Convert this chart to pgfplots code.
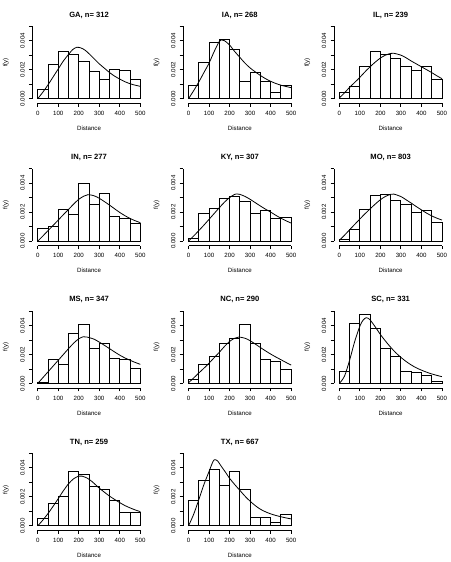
\documentclass[border=0pt]{standalone}
\usepackage{fontspec}
\setmainfont{Liberation Sans}
\usepackage{pgfplots}
\pgfplotsset{compat=1.18}
\newcommand{\tf}{\fontsize{4.6}{5.2}\selectfont}
\pgfplotsset{
  every axis title/.style={at={(axis description cs:0.5,1)}, anchor=center, yshift=8.4pt, font=\bfseries\fontsize{5.7}{6.5}\selectfont},
  panel/.style={
    scale only axis, width=76.95pt, height=54.4pt,
    xmin=0, xmax=500, ymin=0, ymax=0.005,
    axis lines*=left, axis x line shift=3.4pt, axis y line shift=4pt,
    axis line style={-, black, line width=0.6pt},
    tick align=outside, major tick length=2.6pt,
    tick style={black, line width=0.6pt},
    xtick={0,100,200,300,400,500}, xticklabels={0,100,200,300,400,500},
    ytick={0,0.001,0.002,0.003,0.004,0.005}, yticklabels={0.000,,0.002,,0.004,},
    minor tick num=0,
    /pgf/number format/assume math mode=true,
    scaled y ticks=false,
    tick label style={font=\tf, inner sep=0pt},
    xticklabel style={anchor=north},
    yticklabel style={rotate=90, anchor=south},
    xticklabel shift=3pt, yticklabel shift=3pt,
    clip=false,
    xlabel={Distance}, ylabel={f(y)},
    label style={font=\tf},
    xlabel style={at={([yshift=-22pt]axis description cs:0.5,0)}, anchor=center},
    ylabel style={at={([xshift=-24pt]axis description cs:0,0.5)}, anchor=center},
  },
  hist/.style={ybar interval, draw=black, fill=none, line width=0.65pt, mark=none},
  dens/.style={black, line width=0.6pt, smooth, mark=none},
}
\begin{document}
\begin{tikzpicture}
\path[use as bounding box] (0,0) rectangle (338.25pt,-421.5pt);
% ---------- row 1 ----------
\begin{axis}[panel, title={GA, n= 312}, at={(28.3pt,-74.0pt)}, anchor=south west]
\addplot[hist] coordinates {(0,0.00064) (50,0.00234) (100,0.00326) (150,0.00308) (200,0.00257) (250,0.00189) (300,0.00133) (350,0.00202) (400,0.00195) (450,0.00133) (500,0.00133)};
\addplot[dens] coordinates {(0,0) (25,0.00045) (50,0.00095) (75,0.0015) (100,0.00205) (125,0.0026) (150,0.00305) (170,0.00338) (190,0.00354) (210,0.0035) (230,0.00335) (250,0.0031) (275,0.00275) (300,0.0024) (325,0.0021) (350,0.0018) (375,0.00155) (400,0.00135) (425,0.00117) (450,0.00103) (475,0.00093) (500,0.00085)};
\end{axis}
\begin{axis}[panel, title={IA, n= 268}, at={(141.4pt,-74.0pt)}, anchor=south west]
\addplot[hist] coordinates {(0,0.00092) (50,0.00251) (100,0.00389) (150,0.00409) (200,0.00338) (250,0.00117) (300,0.00182) (350,0.00122) (400,0.00046) (450,0.00092) (500,0.00092)};
\addplot[dens] coordinates {(0,0) (25,0.00055) (50,0.00115) (75,0.0018) (100,0.00245) (125,0.00325) (150,0.00395) (160,0.00405) (175,0.004) (200,0.0037) (225,0.00325) (250,0.00285) (275,0.00245) (300,0.00212) (325,0.00185) (350,0.0016) (375,0.00138) (400,0.0012) (425,0.00105) (450,0.00093) (475,0.00084) (500,0.00076)};
\end{axis}
\begin{axis}[panel, title={IL, n= 239}, at={(254.5pt,-74.0pt)}, anchor=south west]
\addplot[hist] coordinates {(0,0.00041) (50,0.00085) (100,0.00221) (150,0.00329) (200,0.00306) (250,0.00276) (300,0.00221) (350,0.00195) (400,0.00221) (450,0.00133) (500,0.00133)};
\addplot[dens] coordinates {(0,0.00005) (25,0.0004) (50,0.00078) (75,0.00112) (100,0.00147) (125,0.00185) (150,0.0022) (175,0.00252) (200,0.0028) (225,0.003) (250,0.00312) (265,0.00313) (300,0.003) (325,0.00282) (350,0.0026) (375,0.0024) (400,0.0022) (425,0.002) (450,0.0018) (475,0.00158) (500,0.00138)};
\end{axis}
% ---------- row 2 ----------
\begin{axis}[panel, title={IN, n= 277}, at={(28.3pt,-180.8pt)}, anchor=south west]
\addplot[hist] coordinates {(0,0.00086) (50,0.00102) (100,0.00221) (150,0.00186) (200,0.00398) (250,0.00256) (300,0.00326) (350,0.00172) (400,0.00156) (450,0.00123) (500,0.00123)};
\addplot[dens] coordinates {(0,0) (25,0.00035) (50,0.00072) (75,0.00108) (100,0.00145) (125,0.00182) (150,0.00218) (175,0.00255) (200,0.00288) (225,0.0031) (245,0.0032) (275,0.00312) (300,0.00295) (325,0.00272) (350,0.00248) (375,0.00222) (400,0.00197) (425,0.00175) (450,0.00156) (475,0.0014) (500,0.00127)};
\end{axis}
\begin{axis}[panel, title={KY, n= 307}, at={(141.4pt,-180.8pt)}, anchor=south west]
\addplot[hist] coordinates {(0,0.00019) (50,0.00193) (100,0.00228) (150,0.00291) (200,0.00309) (250,0.0027) (300,0.00193) (350,0.00214) (400,0.00153) (450,0.0016) (500,0.0016)};
\addplot[dens] coordinates {(0,0) (25,0.00035) (50,0.00072) (75,0.0011) (100,0.0015) (125,0.0019) (150,0.0023) (175,0.00268) (200,0.003) (225,0.00322) (235,0.00325) (250,0.00322) (275,0.00308) (300,0.00288) (325,0.00265) (350,0.00242) (375,0.0022) (400,0.002) (425,0.00178) (450,0.00158) (475,0.0014) (500,0.00124)};
\end{axis}
\begin{axis}[panel, title={MO, n= 803}, at={(254.5pt,-180.8pt)}, anchor=south west]
\addplot[hist] coordinates {(0,0.00014) (50,0.00077) (100,0.00221) (150,0.00314) (200,0.00319) (250,0.00277) (300,0.00256) (350,0.002) (400,0.00212) (450,0.0013) (500,0.0013)};
\addplot[dens] coordinates {(0,0.00005) (25,0.0004) (50,0.00078) (75,0.00115) (100,0.00152) (125,0.00188) (150,0.00222) (175,0.00255) (200,0.00285) (225,0.00308) (250,0.00322) (265,0.00324) (300,0.00307) (325,0.00285) (350,0.00262) (375,0.00238) (400,0.00215) (425,0.00193) (450,0.00174) (475,0.00158) (500,0.00145)};
\end{axis}
% ---------- row 3 ----------
\begin{axis}[panel, title={MS, n= 347}, at={(28.3pt,-287.6pt)}, anchor=south west]
\addplot[hist] coordinates {(0,0.00007) (50,0.00165) (100,0.0013) (150,0.00343) (200,0.00405) (250,0.0024) (300,0.00274) (350,0.00176) (400,0.00165) (450,0.00103) (500,0.00103)};
\addplot[dens] coordinates {(0,0) (25,0.0004) (50,0.0008) (75,0.0012) (100,0.0016) (125,0.002) (150,0.0024) (175,0.00278) (200,0.00308) (222,0.00322) (240,0.0032) (275,0.00305) (300,0.00285) (325,0.00263) (350,0.0024) (375,0.00217) (400,0.00195) (425,0.00176) (450,0.0016) (475,0.00145) (500,0.00132)};
\end{axis}
\begin{axis}[panel, title={NC, n= 290}, at={(141.4pt,-287.6pt)}, anchor=south west]
\addplot[hist] coordinates {(0,0.0003) (50,0.0013) (100,0.00187) (150,0.00274) (200,0.00313) (250,0.00405) (300,0.00274) (350,0.00167) (400,0.00149) (450,0.00096) (500,0.00096)};
\addplot[dens] coordinates {(0,0.00005) (25,0.00038) (50,0.00072) (75,0.00105) (100,0.0014) (125,0.00178) (150,0.00215) (175,0.00255) (200,0.0029) (225,0.00312) (245,0.0032) (275,0.00312) (300,0.00295) (325,0.00272) (350,0.00248) (375,0.00225) (400,0.00203) (425,0.00183) (450,0.00164) (475,0.00145) (500,0.00127)};
\end{axis}
\begin{axis}[panel, title={SC, n= 331}, at={(254.5pt,-287.6pt)}, anchor=south west]
\addplot[hist] coordinates {(0,0.0008) (50,0.00411) (100,0.00473) (150,0.00382) (200,0.00245) (250,0.00183) (300,0.0008) (350,0.00078) (400,0.00053) (450,0.00016) (500,0.00016)};
\addplot[dens] coordinates {(0,0) (25,0.0005) (50,0.0016) (75,0.0029) (100,0.00395) (115,0.00435) (130,0.00453) (145,0.00445) (160,0.0042) (180,0.0038) (200,0.00338) (225,0.00292) (250,0.0025) (275,0.00212) (300,0.0018) (325,0.00152) (350,0.00128) (375,0.00108) (400,0.00092) (425,0.00078) (450,0.00066) (475,0.00056) (500,0.00047)};
\end{axis}
% ---------- row 4 ----------
\begin{axis}[panel, title={TN, n= 259}, at={(28.3pt,-394.4pt)}, anchor=south west]
\addplot[hist] coordinates {(0,0.00048) (50,0.00155) (100,0.00201) (150,0.00377) (200,0.00354) (250,0.0027) (300,0.00251) (350,0.00178) (400,0.00091) (450,0.00091) (500,0.00091)};
\addplot[dens] coordinates {(0,0) (25,0.0004) (50,0.00085) (75,0.00135) (100,0.00188) (125,0.00242) (150,0.0029) (175,0.00325) (200,0.00343) (215,0.00343) (240,0.0033) (265,0.00305) (300,0.0026) (325,0.00232) (350,0.00205) (375,0.00182) (400,0.0016) (425,0.0014) (450,0.00124) (475,0.0011) (500,0.00098)};
\end{axis}
\begin{axis}[panel, title={TX, n= 667}, at={(141.4pt,-394.4pt)}, anchor=south west]
\addplot[hist] coordinates {(0,0.00178) (50,0.00313) (100,0.00389) (150,0.00279) (200,0.00377) (250,0.00251) (300,0.00059) (350,0.00059) (400,0.00021) (450,0.00082) (500,0.00082)};
\addplot[dens] coordinates {(0,0) (25,0.0008) (50,0.0018) (75,0.00285) (100,0.00375) (115,0.0043) (125,0.00455) (140,0.0045) (160,0.0041) (180,0.0037) (200,0.00328) (225,0.00285) (250,0.00245) (275,0.00205) (300,0.0017) (325,0.0014) (350,0.00115) (375,0.00097) (400,0.00083) (425,0.00072) (450,0.00063) (475,0.00055) (500,0.00048)};
\end{axis}
\end{tikzpicture}
\end{document}
